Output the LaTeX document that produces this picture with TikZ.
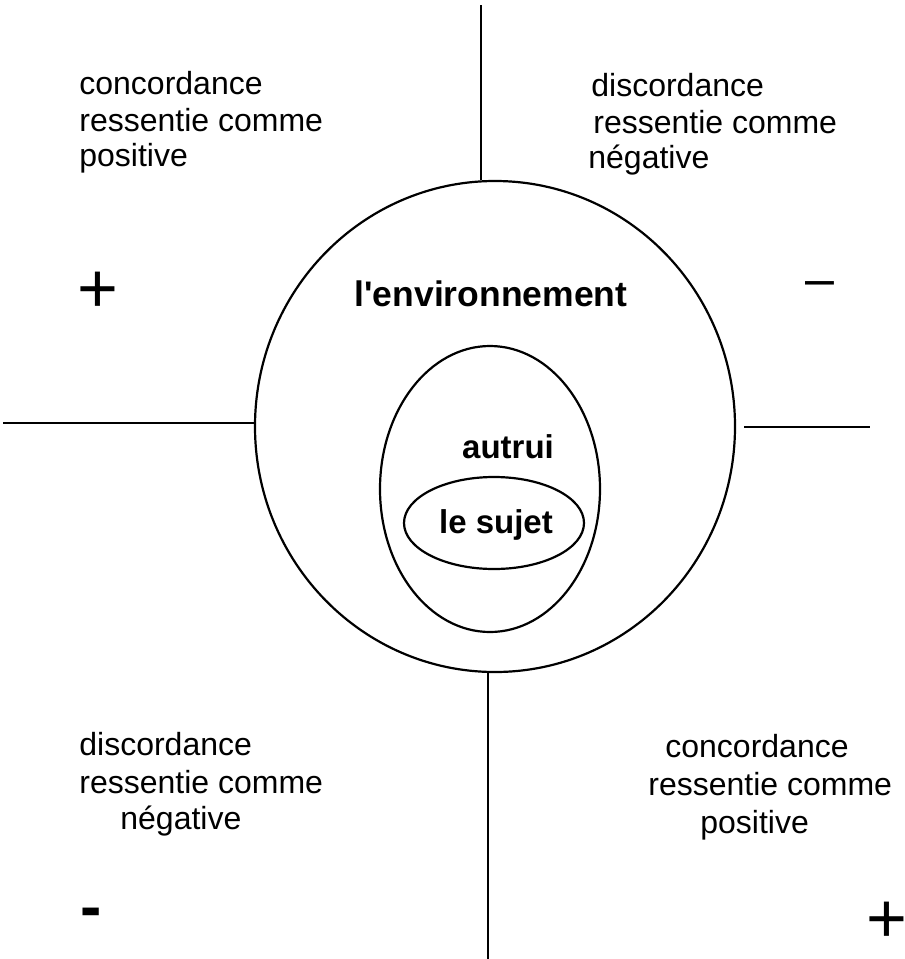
\documentclass[tikz,border=0pt]{standalone}
\usepackage{fontspec}
\setmainfont{Liberation Sans}
\usetikzlibrary{shapes.geometric}
\tikzset{
  ring/.style={draw, ellipse, line width=1.1pt, inner sep=0pt},
  axisline/.style={line width=1.1pt},
  txt/.style={anchor=base west, inner sep=0pt, font=\fontsize{16}{18}\selectfont},
  lbl/.style={anchor=base, inner sep=0pt, font=\bfseries\fontsize{16.5}{18}\selectfont},
  sign/.style={inner sep=0pt, font=\fontsize{35}{38}\selectfont}
}
\begin{document}
\begin{tikzpicture}[x=0.5pt, y=-0.5pt]
\useasboundingbox (0,0) rectangle (905,959);
\node[ring, minimum width=240pt, minimum height=245.5pt] (env) at (495,426.5) {};
\node[ring, minimum width=110pt, minimum height=143pt] (autrui) at (490,489) {};
\node[ring, minimum width=90pt, minimum height=46pt] (sujet) at (494,523) {};
\coordinate (ttop) at (481,5);
\coordinate (bbot) at (488,959);
\coordinate (lft) at (3,423);
\coordinate (rgta) at (744,427);
\coordinate (rgtb) at (870,427);
\draw[axisline] (ttop) -- (ttop |- env.north);
\draw[axisline] (bbot) -- (bbot |- env.south);
\draw[axisline] (lft) -- (lft -| env.west);
\draw[axisline] (rgta) -- (rgtb);
\node[lbl, font=\bfseries\fontsize{17.75}{20}\selectfont] (envtxt) at (491,306) {l\textquotesingle environnement};
\node[lbl] (autruitxt) at (508,458) {autrui};
\node[lbl] (sujettxt) at (496,533) {le sujet};
\foreach \n/\x/\y/\word in {tla/79/94/concordance, tlb/79/131/ressentie comme, tlc/79/166/positive,
  tra/591/96/discordance, trb/593/133/ressentie comme, trc/588/168/négative,
  bla/79/755/discordance, blb/79/793/ressentie comme, blc/120/829/négative,
  bra/665/757/concordance, brb/648/795/ressentie comme, brc/700/833/positive}
  \node[txt] (\n) at (\x,\y) {\word};
\node[sign] (plusa) at (98,292) {+};
\node[sign, font=\fontsize{26}{28}\selectfont] (minusa) at (820,289) {–};
\node[sign, font=\bfseries\fontsize{32}{34}\selectfont] (minusb) at (91,918) {-};
\node[sign] (plusb) at (887,922) {+};
\end{tikzpicture}
\end{document}
